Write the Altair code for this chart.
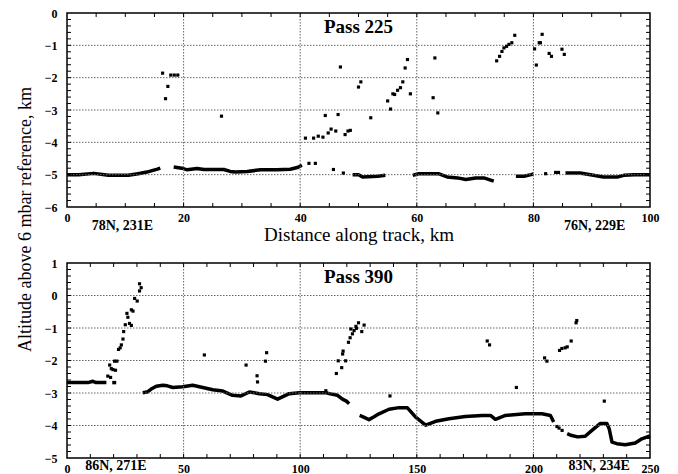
import altair as alt
import pandas as pd

# ---------------- Pass 225 (top panel) ----------------
top_seg_id = [1]*9 + [2]*14 + [3]*5 + [4]*10 + [5]*4 + [6]*8
top_seg_x = [0, 2, 4.6, 7.1, 10.5, 12.2, 13.7, 15.5, 16.0,
             18.3, 19.7, 20.6, 22.3, 23.5, 26.9, 28.0, 28.9, 30.9, 33.2, 36.0, 38.3, 39.5, 40.3,
             49.0, 50.0, 50.7, 53.3, 54.6,
             59.3, 60.3, 62.4, 63.7, 65.2, 67.0, 68.4, 70.1, 71.5, 73.2,
             77.0, 78.4, 79.6, 80.0,
             85.5, 88.0, 89.8, 92.0, 94.5, 95.5, 97.3, 100]
top_seg_y = [-5.0, -5.0, -4.96, -5.02, -5.02, -4.97, -4.92, -4.83, -4.8,
             -4.76, -4.8, -4.85, -4.81, -4.84, -4.84, -4.9, -4.92, -4.9, -4.85, -4.85, -4.83, -4.78, -4.71,
             -5.0, -5.0, -5.07, -5.05, -5.02,
             -5.02, -4.97, -4.97, -4.97, -5.07, -5.1, -5.15, -5.1, -5.1, -5.2,
             -5.05, -5.05, -5.0, -4.98,
             -4.95, -4.95, -5.0, -5.07, -5.07, -5.02, -5.0, -5.0]

top_pt_x = [16.4, 16.9, 17.3, 17.8, 18.4, 19.0, 26.5,
            40.9, 41.5, 42.3, 42.6, 43.1, 43.9, 44.3, 44.8, 45.3, 45.7, 46.1, 46.5, 46.9,
            47.4, 47.7, 48.2, 48.6, 50.0, 50.4, 52.1, 55.0, 55.5, 55.9, 56.2, 56.7, 57.2,
            57.6, 58.0, 58.4, 58.9, 62.8, 63.1, 63.6,
            73.7, 74.2, 74.6, 74.95, 75.4, 75.8, 76.3, 76.8,
            80.2, 80.5, 81.0, 81.2, 81.5, 82.1, 82.7, 83.1, 83.8, 84.3, 84.9, 85.3]
top_pt_y = [-1.86, -2.65, -2.27, -1.92, -1.92, -1.92, -3.19,
            -3.87, -4.65, -3.87, -4.65, -3.81, -3.84, -3.17, -3.71, -3.59, -4.84, -3.65, -3.14, -1.67,
            -4.95, -3.76, -3.65, -3.63, -2.29, -2.13, -3.24, -2.72, -2.97, -2.5, -2.52, -2.39, -2.31,
            -2.13, -1.7, -1.44, -2.5, -2.62, -1.39, -3.09,
            -1.48, -1.34, -1.19, -1.08, -1.03, -0.97, -0.92, -0.69,
            -1.11, -1.61, -0.92, -0.92, -0.66, -4.97, -1.25, -1.34, -4.93, -4.93, -1.12, -1.28]

# ---------------- Pass 390 (bottom panel) ----------------
bot_seg_id = [1]*6 + [2]*2 + [3]*26 + [4]*21 + [5]*14
bot_seg_x = [0, 5, 9, 11.1, 12.5, 16.9,
             19.4, 21.1,
             32.5, 34.7, 36.5, 38.3, 41.1, 43.0, 45.4, 49.6, 53.9, 58.2, 62.5, 66.8, 71.0, 74.6,
             78.2, 82.5, 86.0, 90.3, 95.3, 99.6, 111.0, 112.4, 116.0, 118.1, 119.8, 121.0,
             125.5, 126.5, 129.5, 131.5, 133.8, 138.1, 142.4, 145.9, 149.5, 153.8, 158.1,
             163.8, 170.8, 178.0, 181.6, 183.7, 188.0, 196.5, 203.7, 207.3, 208.7,
             214.5, 216.0, 219.0, 222.2, 225.1, 228.6, 231.5, 232.5, 233.7, 235.8, 239.4, 243.7, 246.5, 250]
bot_seg_y = [-2.68, -2.68, -2.68, -2.64, -2.68, -2.68,
             -2.68, -2.68,
             -2.99, -2.96, -2.86, -2.79, -2.76, -2.78, -2.83, -2.81, -2.76, -2.83, -2.9, -2.94, -3.07, -3.09,
             -2.97, -3.02, -3.05, -3.19, -3.02, -2.99, -2.99, -3.02, -3.07, -3.19, -3.25, -3.33,
             -3.69, -3.72, -3.82, -3.74, -3.64, -3.5, -3.45, -3.45, -3.74, -3.99, -3.87,
             -3.79, -3.72, -3.69, -3.69, -3.81, -3.69, -3.64, -3.64, -3.69, -3.89,
             -4.25, -4.3, -4.35, -4.33, -4.15, -3.94, -3.94, -4.1, -4.51, -4.56, -4.59, -4.54, -4.41, -4.32]

bot_pt_x = [17.5, 18.3, 18.7, 19.0, 19.7, 20.4, 20.8, 21.4, 22.1, 22.8, 23.3, 24.0, 24.3, 25.0,
            25.7, 26.1, 26.8, 27.6, 27.6, 28.3, 29.0, 30.1, 31.1, 31.1, 31.8,
            58.9, 76.8, 81.5, 81.7, 85.1, 85.6, 111.0,
            115.5, 116.3, 117.8, 118.2, 118.4, 119.5, 120.7, 121.4, 121.7, 122.4, 123.1, 123.9,
            124.1, 125.0, 126.4, 127.4, 138.5,
            180.2, 181.2, 192.7, 204.8, 205.8, 210.1, 211.0, 212.3, 211.2, 212.2, 213.6, 214.5,
            216.2, 218.3, 218.6, 230.4]
bot_pt_y = [-2.48, -2.14, -2.52, -2.25, -2.28, -2.02, -2.3, -2.02, -1.66, -1.61, -1.52, -1.34, -1.11, -0.9,
            -0.55, -0.67, -0.86, -0.92, -0.44, -0.48, -0.09, -0.17, 0.14, 0.36, 0.24,
            -1.83, -2.14, -2.47, -2.66, -2.02, -1.76, -2.93,
            -2.4, -2.01, -2.22, -1.8, -1.71, -2.01, -1.44, -1.3, -1.03, -1.18, -1.08, -0.95,
            -1.01, -0.84, -1.11, -0.91, -3.09,
            -1.4, -1.52, -2.83, -1.92, -2.02, -4.03, -4.08, -4.15, -1.69, -1.63, -1.61, -1.58,
            -1.4, -0.84, -0.77, -3.25]

# ---------------- annotations ----------------
top_title = "Pass 225"
bot_title = "Pass 390"
top_loc_text = ["78N, 231E", "76N, 229E"]
top_loc_x = [9.5, 90.5]
bot_loc_text = ["86N, 271E", "83N, 234E"]
bot_loc_x = [21.0, 228.2]
x_title = "Distance along track, km"
y_title = "Altitude above 6 mbar reference, km"

top_x_major = [0, 20, 40, 60, 80, 100]
top_y_major = [0, -1, -2, -3, -4, -5, -6]
bot_x_major = [0, 50, 100, 150, 200, 250]
bot_y_major = [1, 0, -1, -2, -3, -4, -5]

SERIF = "Liberation Serif"
W = 583
TICK_PX = 4


def panel(seg_x, seg_y, seg_id, pt_x, pt_y, title, loc_text, loc_x, loc_drop,
          xdom, ydom, xmajor, ymajor, xminor_step, height, xtitle):
    seg_df = pd.DataFrame({"x": seg_x, "y": seg_y, "seg": seg_id})
    pt_df = pd.DataFrame({"x": pt_x, "y": pt_y})
    loc_df = pd.DataFrame({"x": loc_x, "y": [ydom[0] - loc_drop] * len(loc_x), "t": loc_text})
    ttl_df = pd.DataFrame({"x": [(xdom[0] + xdom[1]) / 2], "y": [ydom[1] - 0.63], "t": [title]})

    xs = alt.Scale(domain=xdom, nice=False, zero=False)
    ys = alt.Scale(domain=ydom, nice=False, zero=False)

    # minor tick positions (axis decoration)
    xminor = list(range(xdom[0] + xminor_step, xdom[1], xminor_step))
    n = int(round((ydom[1] - ydom[0]) / 0.2))
    yminor = [round(ydom[0] + 0.2 * i, 1) for i in range(1, n)]
    dx = TICK_PX * (xdom[1] - xdom[0]) / W
    dy = TICK_PX * (ydom[1] - ydom[0]) / height
    tk = {"x": [], "x2": [], "y": [], "y2": []}
    for v in xminor:
        for a, b in ((ydom[0], ydom[0] + dy), (ydom[1], ydom[1] - dy)):
            tk["x"].append(v); tk["x2"].append(v); tk["y"].append(a); tk["y2"].append(b)
    for v in yminor:
        for a, b in ((xdom[0], xdom[0] + dx), (xdom[1], xdom[1] - dx)):
            tk["x"].append(a); tk["x2"].append(b); tk["y"].append(v); tk["y2"].append(v)
    tk_df = pd.DataFrame(tk)

    # grid lines at the major values (inside the frame)
    vg_df = pd.DataFrame({"x": xmajor[1:-1]})
    hmaj = [v for v in ymajor if ydom[0] < v < ydom[1]]
    hg_df = pd.DataFrame({"x": [xdom[0], xdom[1]] * len(hmaj),
                          "y": [v for v in hmaj for _ in (0, 1)],
                          "k": [v for v in hmaj for _ in (0, 1)]})

    xkw = dict(values=xmajor, grid=False, ticks=False, domain=False, labelOverlap=False,
               labelFont=SERIF, labelFontWeight="bold", labelFontSize=12,
               labelColor="black", labelPadding=5, labelFlush=False)
    if xtitle:
        xkw.update(title=xtitle, titleFont=SERIF, titleFontSize=19, titleFontWeight="normal",
                   titleColor="black", titleBaseline="alphabetic", titleY=33)
    else:
        xkw.update(title=None)
    ykw = dict(values=ymajor, grid=False, ticks=False, domain=False, format="d",
               labelOverlap=False, labelFlush=False,
               labelFont=SERIF, labelFontWeight="bold", labelFontSize=12,
               labelColor="black", labelPadding=10, title=None)

    def X(field="x:Q"):
        return alt.X(field, scale=xs, axis=alt.Axis(**xkw))

    def Y(field="y:Q"):
        return alt.Y(field, scale=ys, axis=alt.Axis(**ykw))

    lines = alt.Chart(seg_df).mark_line(color="black", strokeWidth=3.5, strokeJoin="round").encode(
        x=X(), y=Y(), detail="seg:N")
    vgrid = alt.Chart(vg_df).mark_rule(color="#666", strokeWidth=1, strokeDash=[1.5, 1.5]).encode(
        x=X())
    hgrid = alt.Chart(hg_df).mark_line(color="#666", strokeWidth=1, strokeDash=[1.5, 1.5]).encode(
        x=X(), y=Y(), detail="k:N")
    ticks = alt.Chart(tk_df).mark_rule(color="black", strokeWidth=1).encode(
        x=X(), x2="x2:Q", y=Y(), y2="y2:Q")
    pts = alt.Chart(pt_df).mark_square(size=10, color="black", opacity=1).encode(
        x=X(), y=Y())
    locs = alt.Chart(loc_df).mark_text(font=SERIF, fontWeight="bold", fontSize=14,
                                       baseline="alphabetic", align="center", color="black").encode(
        x=X(), y=Y(), text="t:N")
    ttl = alt.Chart(ttl_df).mark_text(font=SERIF, fontWeight="bold", fontSize=19,
                                      baseline="alphabetic", align="center", color="black").encode(
        x=X(), y=Y(), text="t:N")
    return alt.layer(lines, vgrid, hgrid, ticks, pts, locs, ttl).properties(width=W, height=height)


top = panel(top_seg_x, top_seg_y, top_seg_id, top_pt_x, top_pt_y, top_title,
            top_loc_text, top_loc_x, 0.70, [0, 100], [-6, 0], top_x_major, top_y_major, 5, 194,
            x_title)
bottom = panel(bot_seg_x, bot_seg_y, bot_seg_id, bot_pt_x, bot_pt_y, bot_title,
               bot_loc_text, bot_loc_x, 0.36, [0, 250], [-5, 1], bot_x_major, bot_y_major, 10, 195,
               None)

chart = alt.vconcat(
    top, bottom, spacing=11,
    title=alt.TitleParams(text=y_title, orient="left", anchor="middle", font=SERIF,
                          fontSize=18, fontWeight="normal", color="black", offset=8, dx=21),
).properties(
    padding={"left": 9, "top": -2, "right": 5, "bottom": 0},
).configure_view(stroke="black", strokeWidth=1.5).configure_axis(labelOverlap=False)

chart.save("out.html", embed_options={"renderer": "svg", "actions": False})
